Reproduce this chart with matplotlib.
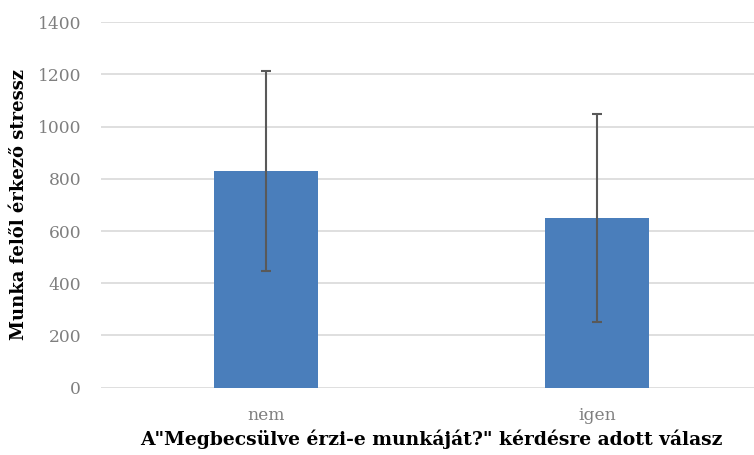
import matplotlib.pyplot as plt

categories = ['nem', 'igen']
means = [831, 650]
errors = [383, 397]
yticks = [0, 200, 400, 600, 800, 1000, 1200, 1400]

plt.rcParams['font.family'] = ['DejaVu Serif']

fig = plt.figure(figsize=(7.54, 4.55), dpi=100)
ax = fig.add_axes([0.1333, 0.148, 0.878, 0.803])

x = range(len(categories))
ax.bar(x, means, width=0.313, color='#4a7ebb', zorder=2,
       yerr=errors, error_kw=dict(ecolor='#595959', elinewidth=1.5, capsize=3.8, capthick=1.5))

ax.set_xlim(-0.5, 1.5)
ax.set_ylim(0, 1400)
ax.set_yticks(yticks)
ax.set_xticks(list(x))
ax.set_xticklabels(categories)
ax.grid(axis='y', color='#d9d9d9', linewidth=1.2, zorder=0)
for s in ax.spines.values():
    s.set_visible(False)
ax.tick_params(length=0, colors='#7f7f7f', labelsize=12.3)
ax.tick_params(axis='x', pad=14)
ax.tick_params(axis='y', pad=14)

ax.set_ylabel('Munka felől érkező stressz', fontsize=13, fontweight='bold', labelpad=7)
ax.set_xlabel('A"Megbecsülve érzi-e munkáját?" kérdésre adott válasz',
              fontsize=13.5, fontweight='bold', labelpad=4)

fig.savefig('out.png', dpi=100)
